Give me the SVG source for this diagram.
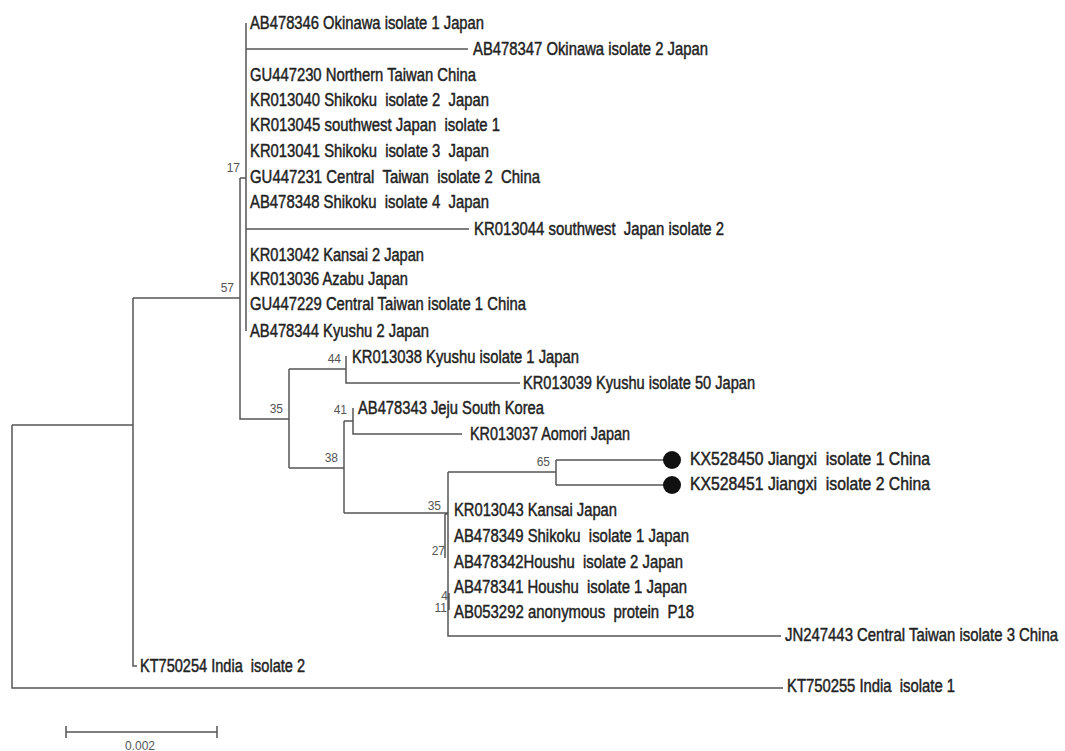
<svg xmlns="http://www.w3.org/2000/svg" width="1065" height="751" viewBox="0 0 1065 751">
<style>
.br{fill:none;stroke:#555;stroke-width:1.5}
.t{font-family:"Liberation Sans Narrow","Liberation Sans",Arial,sans-serif;font-size:17.5px;fill:#222;stroke:#222;stroke-width:0.45;white-space:pre}
.b{font-family:"Liberation Sans Narrow","Liberation Sans",Arial,sans-serif;font-size:12px;fill:#555;text-anchor:end}
.dot{fill:#111}
</style>
<rect width="1065" height="751" fill="#fff"/>
<g id="connectors">
<path class="br" d="M12,425 V688 H783 M12,425 H133 M133,298 V666 H137 M133,298 H240 M240,178 V419 H289 M240,178 H246 M246,23 V331 M246,49 H468 M246,229 H469"/>
<path class="br" d="M289,369 V468 M289,369 H346 M346,356 V383 H520 M289,468 H344 M344,421 V513 M344,421 H353 M353,408 V434 H462 M344,513 H448 M448,472 V636 H781 M448,472 H556 M556,460 V485 M556,460 H672 M556,485 H672 M445,514 H448 M445,514 V558 M449,593 V610"/>
</g>
<g id="tips">
<text class="t" x="250" y="29" textLength="234" lengthAdjust="spacingAndGlyphs">AB478346 Okinawa isolate 1 Japan</text>
<text class="t" x="473" y="55" textLength="235" lengthAdjust="spacingAndGlyphs">AB478347 Okinawa isolate 2 Japan</text>
<text class="t" x="250" y="81" textLength="226" lengthAdjust="spacingAndGlyphs">GU447230 Northern Taiwan China</text>
<text class="t" x="250" y="106" textLength="239" lengthAdjust="spacingAndGlyphs">KR013040 Shikoku  isolate 2  Japan</text>
<text class="t" x="250" y="131" textLength="250" lengthAdjust="spacingAndGlyphs">KR013045 southwest Japan  isolate 1</text>
<text class="t" x="250" y="157" textLength="239" lengthAdjust="spacingAndGlyphs">KR013041 Shikoku  isolate 3  Japan</text>
<text class="t" x="250" y="183" textLength="290" lengthAdjust="spacingAndGlyphs">GU447231 Central  Taiwan  isolate 2  China</text>
<text class="t" x="250" y="208" textLength="239" lengthAdjust="spacingAndGlyphs">AB478348 Shikoku  isolate 4  Japan</text>
<text class="t" x="474" y="235" textLength="250" lengthAdjust="spacingAndGlyphs">KR013044 southwest  Japan isolate 2</text>
<text class="t" x="250" y="261" textLength="174" lengthAdjust="spacingAndGlyphs">KR013042 Kansai 2 Japan</text>
<text class="t" x="250" y="285" textLength="158" lengthAdjust="spacingAndGlyphs">KR013036 Azabu Japan</text>
<text class="t" x="250" y="310" textLength="276" lengthAdjust="spacingAndGlyphs">GU447229 Central Taiwan isolate 1 China</text>
<text class="t" x="250" y="337" textLength="179" lengthAdjust="spacingAndGlyphs">AB478344 Kyushu 2 Japan</text>
<text class="t" x="352" y="363" textLength="227" lengthAdjust="spacingAndGlyphs">KR013038 Kyushu isolate 1 Japan</text>
<text class="t" x="523" y="389" textLength="232" lengthAdjust="spacingAndGlyphs">KR013039 Kyushu isolate 50 Japan</text>
<text class="t" x="358" y="414" textLength="186" lengthAdjust="spacingAndGlyphs">AB478343 Jeju South Korea</text>
<text class="t" x="470" y="440" textLength="160" lengthAdjust="spacingAndGlyphs">KR013037 Aomori Japan</text>
<text class="t" x="690" y="465" textLength="240" lengthAdjust="spacingAndGlyphs">KX528450 Jiangxi  isolate 1 China</text>
<text class="t" x="690" y="490" textLength="240" lengthAdjust="spacingAndGlyphs">KX528451 Jiangxi  isolate 2 China</text>
<text class="t" x="454" y="516" textLength="163" lengthAdjust="spacingAndGlyphs">KR013043 Kansai Japan</text>
<text class="t" x="454" y="542" textLength="235" lengthAdjust="spacingAndGlyphs">AB478349 Shikoku  isolate 1 Japan</text>
<text class="t" x="454" y="568" textLength="229" lengthAdjust="spacingAndGlyphs">AB478342Houshu  isolate 2 Japan</text>
<text class="t" x="454" y="593" textLength="233" lengthAdjust="spacingAndGlyphs">AB478341 Houshu  isolate 1 Japan</text>
<text class="t" x="454" y="618" textLength="240" lengthAdjust="spacingAndGlyphs">AB053292 anonymous  protein  P18</text>
<text class="t" x="785" y="641" textLength="273" lengthAdjust="spacingAndGlyphs">JN247443 Central Taiwan isolate 3 China</text>
<text class="t" x="140" y="672" textLength="165" lengthAdjust="spacingAndGlyphs">KT750254 India  isolate 2</text>
<text class="t" x="787" y="692" textLength="168" lengthAdjust="spacingAndGlyphs">KT750255 India  isolate 1</text>
</g>
<g id="markers">
<circle class="dot" cx="672" cy="460" r="9"/>
<circle class="dot" cx="672" cy="485" r="9"/>
</g>
<g id="bootstrap">
<text class="b" x="240" y="172">17</text>
<text class="b" x="234" y="292">57</text>
<text class="b" x="283" y="413">35</text>
<text class="b" x="341" y="363">44</text>
<text class="b" x="347" y="414">41</text>
<text class="b" x="338" y="462">38</text>
<text class="b" x="441" y="510">35</text>
<text class="b" x="550" y="466">65</text>
<text class="b" x="445" y="555">27</text>
<text class="b" x="448" y="600">4</text>
<text class="b" x="447" y="612">11</text>
</g>
<g id="scale">
<path class="br" d="M66,732 H217 M66,726 V738 M217,726 V738"/>
<text class="b" x="140" y="750" style="text-anchor:middle">0.002</text>
</g>
</svg>
